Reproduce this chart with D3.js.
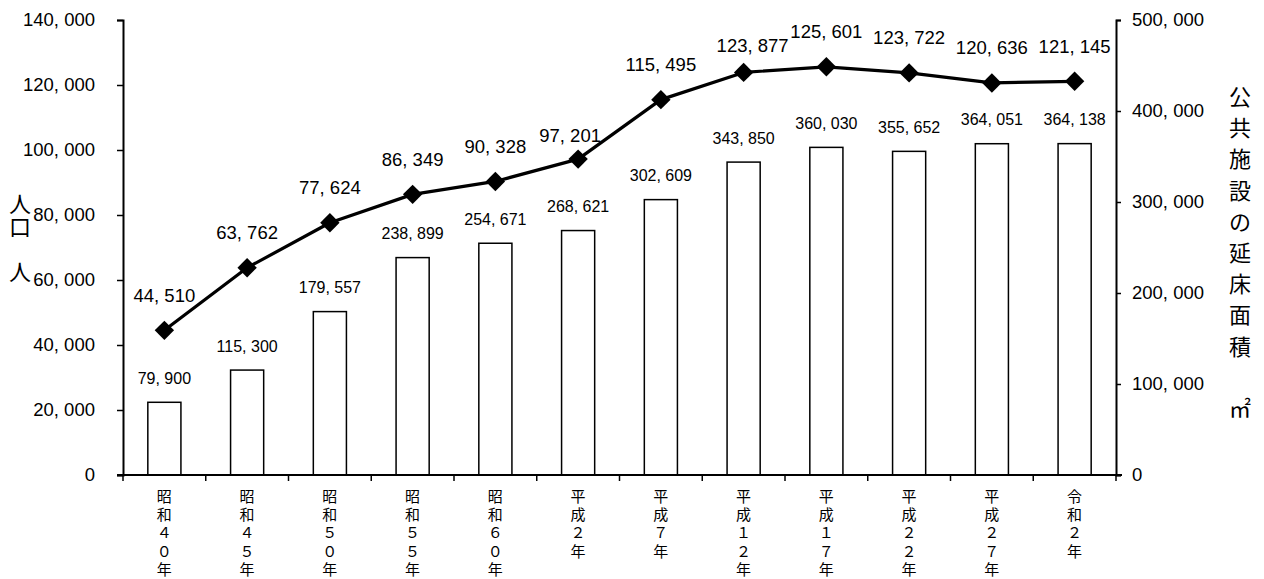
<!DOCTYPE html>
<html lang="ja">
<head>
<meta charset="utf-8">
<script src="https://cdn.jsdelivr.net/npm/d3@7"></script>
<style>
  html, body { margin: 0; padding: 0; background: #fff; }
  svg { display: block; }
  .num { font-family: "Liberation Sans", Arial, sans-serif; fill: #000; }
  .jp { font-family: "Noto Sans CJK JP", "Noto Sans", sans-serif; fill: #000; }
</style>
</head>
<body>
<svg id="chart" width="1264" height="579"></svg>
<script>
// Survey years (vertical labels on the category axis)
const categories = [
  "昭和４０年", "昭和４５年", "昭和５０年", "昭和５５年", "昭和６０年", "平成２年",
  "平成７年", "平成１２年", "平成１７年", "平成２２年", "平成２７年", "令和２年"
];
// Population (人), left axis, drawn as a line
const population = [44510, 63762, 77624, 86349, 90328, 97201, 115495, 123877, 125601, 123722, 120636, 121145];
// Total floor area of public facilities (㎡), right axis, drawn as bars
const floorArea = [79900, 115300, 179557, 238899, 254671, 268621, 302609, 343850, 360030, 355652, 364051, 364138];
// Axis tick values
const leftTicks = [0, 20000, 40000, 60000, 80000, 100000, 120000, 140000];
const rightTicks = [0, 100000, 200000, 300000, 400000, 500000];
// Axis titles, stacked one character per line
const leftTitle = ["人", "口", "", "人"];
const rightTitle = ["公", "共", "施", "設", "の", "延", "床", "面", "積", "", "㎡"];

// Nudges for a few population labels that sit off their default spot
const popLabelShift = {5: [-8, 11], 7: [9, 8]};

const svg = d3.select("#chart");
const plot = {left: 123, right: 1116, top: 20, bottom: 475};

const x = d3.scaleBand().domain(categories).range([plot.left, plot.right]).paddingInner(0).paddingOuter(0);
const yL = d3.scaleLinear().domain([0, 140000]).range([plot.bottom, plot.top]);
const yR = d3.scaleLinear().domain([0, 500000]).range([plot.bottom, plot.top]);

const fmt = v => d3.format(",")(v).replace(/,/g, ", ");

// Bars (floor area)
const barW = x.bandwidth() * 0.4;
svg.append("g").selectAll("rect").data(floorArea).join("rect")
  .attr("x", (d, i) => x(categories[i]) + (x.bandwidth() - barW) / 2)
  .attr("y", d => yR(d))
  .attr("width", barW)
  .attr("height", d => yR(0) - yR(d))
  .attr("fill", "#fff")
  .attr("stroke", "#000")
  .attr("stroke-width", 1.5);

svg.append("g").selectAll("text").data(floorArea).join("text")
  .attr("class", "num")
  .attr("x", (d, i) => x(categories[i]) + x.bandwidth() / 2)
  .attr("y", d => yR(d) - 24)
  .attr("dy", "0.35em")
  .attr("text-anchor", "middle")
  .attr("font-size", 16)
  .text(fmt);

// Population line with diamond markers
const cx = i => x(categories[i]) + x.bandwidth() / 2;
const line = d3.line().x((d, i) => cx(i)).y(d => yL(d));
svg.append("path").datum(population)
  .attr("d", line)
  .attr("fill", "none")
  .attr("stroke", "#000")
  .attr("stroke-width", 3.2)
  .attr("stroke-linejoin", "round");

svg.append("g").selectAll("path").data(population).join("path")
  .attr("d", d3.symbol(d3.symbolDiamond2, 240))
  .attr("transform", (d, i) => `translate(${cx(i)},${yL(d)})`)
  .attr("fill", "#000");

svg.append("g").selectAll("text").data(population).join("text")
  .attr("class", "num")
  .attr("x", (d, i) => cx(i) + (popLabelShift[i] ? popLabelShift[i][0] : 0))
  .attr("y", (d, i) => yL(d) - 35 + (popLabelShift[i] ? popLabelShift[i][1] : 0))
  .attr("dy", "0.35em")
  .attr("text-anchor", "middle")
  .attr("font-size", 18.5)
  .text(fmt);

// Axes
const axisStyle = g => {
  g.select(".domain").attr("stroke", "#000").attr("stroke-width", 2);
  g.selectAll(".tick line").attr("stroke", "#000").attr("stroke-width", 1.5);
};

svg.append("g")
  .attr("transform", `translate(${plot.left},0)`)
  .call(d3.axisLeft(yL).tickValues(leftTicks).tickFormat(fmt).tickSize(6).tickSizeOuter(6).tickPadding(22))
  .call(axisStyle)
  .call(g => g.selectAll(".tick text").attr("class", "num").attr("font-size", 18.5).attr("fill", "#000"));

svg.append("g")
  .attr("transform", `translate(${plot.right},0)`)
  .call(d3.axisRight(yR).tickValues(rightTicks).tickFormat(fmt).tickSize(5).tickSizeOuter(5).tickPadding(11))
  .call(axisStyle)
  .call(g => g.selectAll(".tick text").attr("class", "num").attr("font-size", 18.5).attr("fill", "#000"));

// Category axis: ticks at band boundaries, labels written vertically
const xAxis = svg.append("g");
xAxis.append("line")
  .attr("x1", plot.left - 6).attr("x2", plot.right + 6)
  .attr("y1", plot.bottom).attr("y2", plot.bottom)
  .attr("stroke", "#000").attr("stroke-width", 2);
const bounds = categories.map(c => x(c)).concat([plot.right]);
xAxis.selectAll("line.tk").data(bounds).join("line")
  .attr("class", "tk")
  .attr("x1", d => d).attr("x2", d => d)
  .attr("y1", plot.bottom).attr("y2", plot.bottom + 6)
  .attr("stroke", "#000").attr("stroke-width", 1.5);

// one text element per character, stacked downward
const colX = d => x(d) + x.bandwidth() / 2;
categories.forEach(cat => {
  xAxis.append("g").selectAll("text").data(Array.from(cat)).join("text")
    .attr("class", "jp")
    .attr("font-size", 15)
    .attr("text-anchor", "middle")
    .attr("x", colX(cat))
    .attr("y", (ch, k) => 502 + k * 18.2)
    .text(ch => ch);
});

// Axis titles
svg.append("g").selectAll("text").data(leftTitle).join("text")
  .attr("class", "jp")
  .attr("x", 20)
  .attr("y", (d, i) => 212 + i * 22.5)
  .attr("font-size", 22)
  .attr("text-anchor", "middle")
  .text(d => d);

svg.append("g").selectAll("text").data(rightTitle).join("text")
  .attr("class", "jp")
  .attr("x", 1240)
  .attr("y", (d, i) => 105 + i * 31.2)
  .attr("font-size", 22)
  .attr("text-anchor", "middle")
  .text(d => d);
</script>
</body>
</html>
